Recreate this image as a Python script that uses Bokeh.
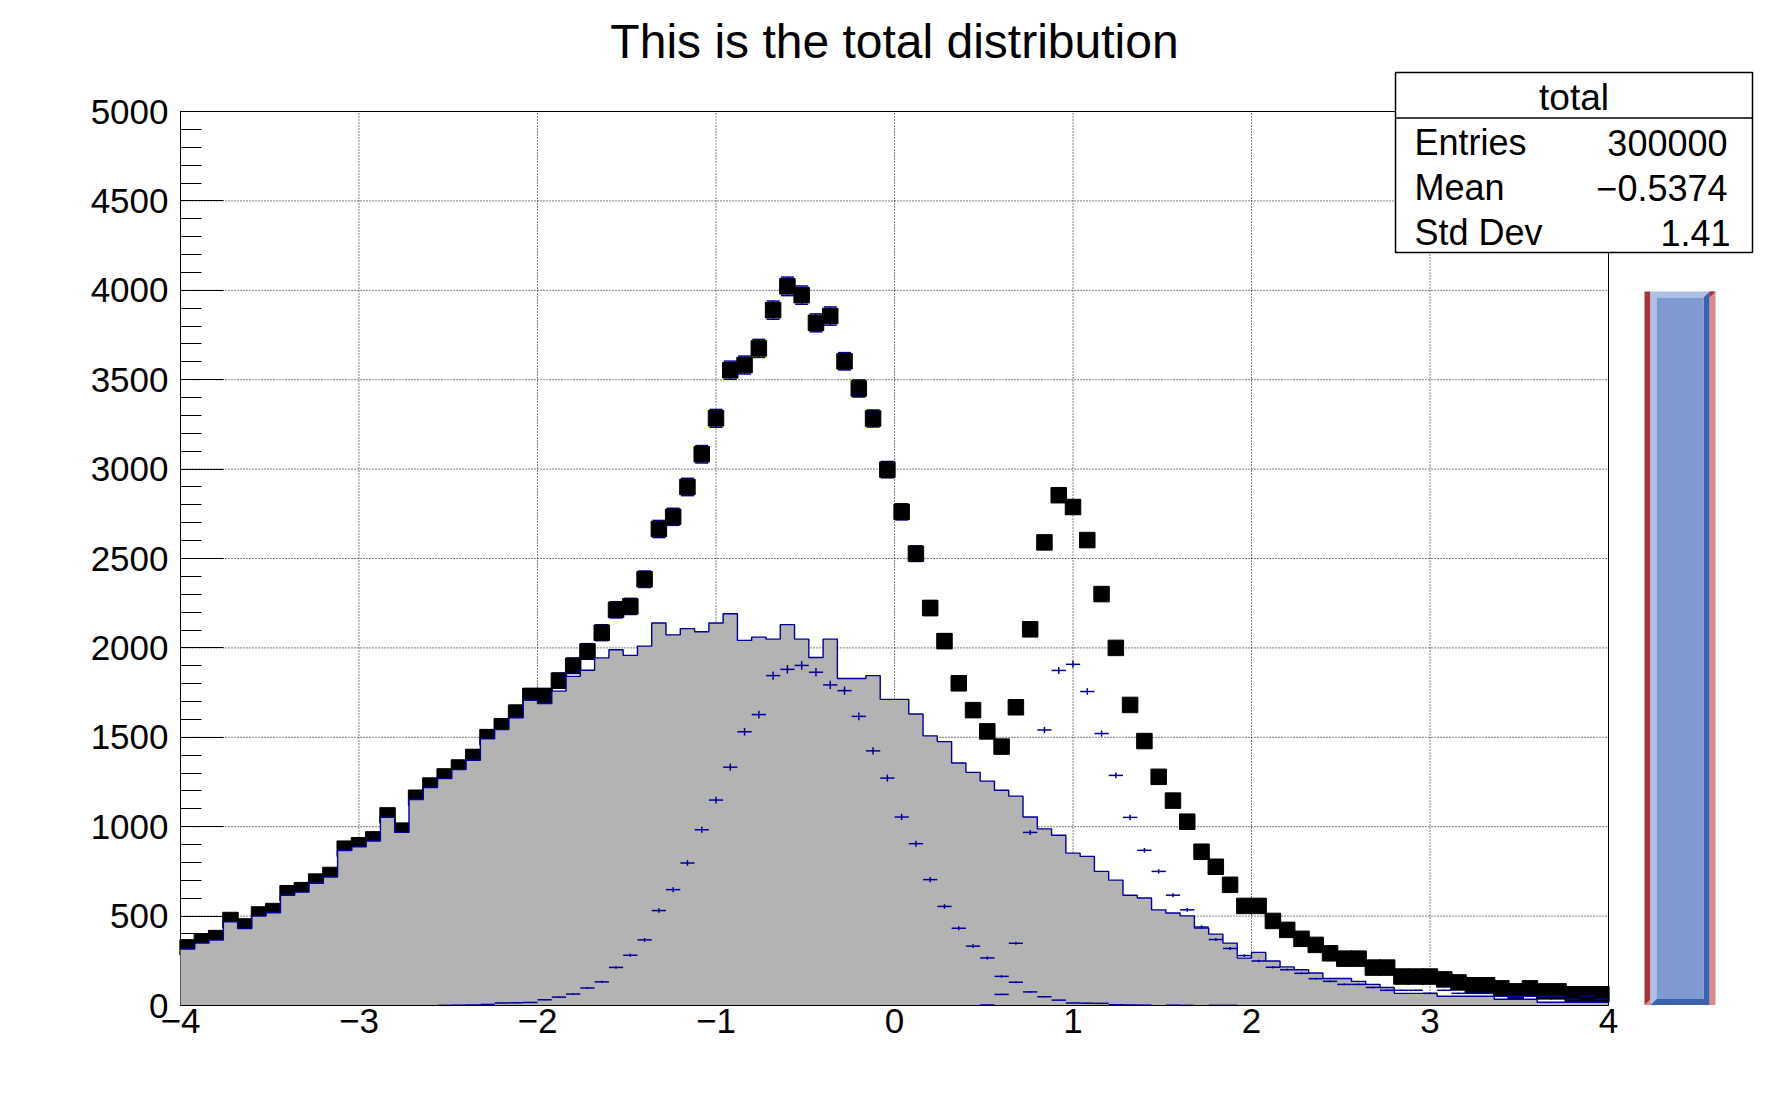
import numpy as np
from bokeh.plotting import figure
from bokeh.models import (Range1d, FixedTicker, BoxAnnotation, PolyAnnotation, Label,
                          LinearAxis)
from bokeh.embed import file_html
from bokeh.resources import INLINE

# ---------------- data ----------------
N_BINS = 100
X_MIN, X_MAX = -4.0, 4.0
Y_MIN, Y_MAX = 0.0, 5000.0

total = [325, 359, 377, 478, 442, 509, 528, 628, 645, 693,
         730, 877, 896, 929, 1063, 978, 1162, 1230, 1281, 1331,
         1390, 1501, 1562, 1638, 1731, 1731, 1817, 1900, 1980, 2085,
         2213, 2232, 2384, 2665, 2733, 2900, 3083, 3284, 3553, 3582,
         3675, 3889, 4022, 3973, 3818, 3856, 3603, 3451, 3283, 2997,
         2761, 2527, 2223, 2038, 1802, 1652, 1533, 1448, 1668, 2104,
         2590, 2854, 2788, 2603, 2301, 2000, 1681, 1479, 1279, 1146,
         1028, 860, 776, 675, 557, 557, 473, 423, 373, 339,
         292, 262, 262, 212, 212, 162, 162, 162, 146, 129,
         113, 113, 96, 79, 96, 79, 79, 63, 63, 63]

main = [316, 349, 366, 468, 431, 500, 519, 617, 634, 684,
        719, 866, 887, 920, 1053, 968, 1152, 1219, 1269, 1319,
        1372, 1491, 1543, 1609, 1707, 1689, 1758, 1841, 1875, 1944,
        1990, 1958, 2010, 2139, 2073, 2108, 2090, 2139, 2191, 2042,
        2060, 2049, 2130, 2049, 1946, 2049, 1829, 1829, 1845, 1712,
        1712, 1630, 1508, 1476, 1356, 1304, 1255, 1204, 1171, 1054,
        988, 952, 852, 834, 750, 701, 617, 601, 535, 517,
        501, 433, 399, 349, 265, 297, 249, 216, 200, 182,
        151, 151, 135, 118, 101, 68, 68, 68, 52, 52,
        52, 52, 35, 35, 35, 18, 18, 18, 18, 18]

sig1 = [0, 0, 0, 0, 0, 0, 0, 0, 0, 0,
        0, 0, 0, 0, 0, 0, 0, 0, 1, 2,
        3, 6, 14, 15, 17, 32, 47, 64, 98, 132,
        213, 281, 367, 531, 648, 797, 983, 1149, 1333, 1531,
        1627, 1845, 1880, 1902, 1864, 1793, 1761, 1617, 1424, 1272,
        1054, 905, 704, 554, 432, 332, 266, 163, 130, 76,
        49, 30, 14, 13, 12, 4, 3, 2, 0, 2,
        1, 0, 1, 1, 0, 0, 0, 0, 0, 0,
        0, 0, 0, 0, 0, 0, 0, 0, 0, 0,
        0, 0, 0, 0, 0, 0, 0, 0, 0, 0]

sig2 = [0, 0, 0, 0, 0, 0, 0, 0, 0, 0,
        0, 0, 0, 0, 0, 0, 0, 0, 0, 0,
        0, 0, 0, 0, 0, 0, 0, 0, 0, 0,
        0, 0, 0, 0, 0, 0, 0, 0, 0, 0,
        0, 0, 0, 0, 0, 0, 0, 0, 0, 0,
        0, 0, 0, 0, 0, 0, 3, 62, 348, 968,
        1541, 1874, 1908, 1756, 1521, 1287, 1052, 868, 750, 617,
        535, 439, 369, 319, 279, 249, 214, 200, 180, 150,
        135, 118, 118, 101, 85, 85, 85, 68, 85, 68,
        68, 68, 52, 52, 52, 52, 52, 35, 52, 35]

x_ticks = [-4, -3, -2, -1, 0, 1, 2, 3, 4]
x_tick_labels = ["\u22124", "\u22123", "\u22122", "\u22121", "0", "1", "2", "3", "4"]
y_ticks = list(range(0, 5001, 500))
y_minor = list(range(0, 5001, 100))

title_text = "This is the total distribution"
stats_title = "total"
stats_names = ["Entries", "Mean", "Std Dev"]
stats_values = ["300000", "\u22120.5374", "1.41"]

# ---------------- styles / layout ----------------
BLUE = "#000099"
GRAY = "#b3b3b3"
FONT = "Liberation Sans"
BASE_SHIFT = 0.36   # label baseline correction, in em

CANVAS_W, CANVAS_H = 1772, 1100
# ROOT frame position on the canvas (px)
FR_L, FR_R, FR_T, FR_B = 180.0, 1608.0, 111.0, 1005.0
ux = (X_MAX - X_MIN) / (FR_R - FR_L)   # data units per px
uy = (Y_MAX - Y_MIN) / (FR_B - FR_T)


def dx(px):
    return X_MIN + (px - FR_L) * ux


def dy(py):
    return Y_MIN + (FR_B - py) * uy


def text_at(xpx, baseline_px, text, size, align):
    return Label(x=dx(xpx), y=dy(baseline_px - BASE_SHIFT * size), text=text,
                 text_align=align, text_baseline="alphabetic", text_font=FONT,
                 text_font_size="%dpx" % size, text_color="black")


edges = np.linspace(X_MIN, X_MAX, N_BINS + 1)
centers = 0.5 * (edges[:-1] + edges[1:])
tot = np.array(total, float)
mn = np.array(main, float)
s1 = np.array(sig1, float)
s2 = np.array(sig2, float)

# errors from sum of squared weights (main w=1, s1 w=0.3, s2 w=0.2)
tot_err = np.sqrt(mn + 0.3 * s1 + 0.2 * s2)
s1_err = np.sqrt(0.3 * s1)
s2_err = np.sqrt(0.2 * s2)

p = figure(title=None, frame_width=CANVAS_W, frame_height=CANVAS_H,
           min_border_left=0, min_border_right=0, min_border_top=0, min_border_bottom=0,
           x_range=Range1d(dx(0), dx(CANVAS_W)), y_range=Range1d(dy(CANVAS_H), dy(0)),
           output_backend="svg", toolbar_location=None,
           background_fill_color="white", border_fill_color="white")
p.outline_line_color = None
p.grid.visible = False

# axes placed on the ROOT frame
p.xaxis.fixed_location = Y_MIN
p.xaxis.bounds = (X_MIN, X_MAX)
p.xaxis.ticker = FixedTicker(ticks=x_ticks)
p.xaxis.major_label_overrides = {t: l for t, l in zip(x_ticks, x_tick_labels)}
p.xaxis.major_tick_in = 0
p.xaxis.major_tick_out = 0
p.xaxis.minor_tick_in = 0
p.xaxis.minor_tick_out = 0
p.xaxis.major_label_standoff = 3
p.yaxis.fixed_location = X_MIN
p.yaxis.bounds = (Y_MIN, Y_MAX)
p.yaxis.ticker = FixedTicker(ticks=y_ticks, minor_ticks=y_minor)
p.yaxis.major_tick_in = 43
p.yaxis.major_tick_out = 0
p.yaxis.minor_tick_in = 21
p.yaxis.minor_tick_out = 0
p.yaxis.major_label_standoff = 12
p.yaxis.level = "underlay"       # the filled histogram covers the y ticks, as in ROOT
for ax in (p.xaxis, p.yaxis):
    ax.axis_line_color = "black"
    ax.axis_line_width = 1
    ax.major_tick_line_color = "black"
    ax.minor_tick_line_color = "black"
    ax.major_label_text_font = FONT
    ax.major_label_text_font_size = "35px"
    ax.major_label_text_color = "black"

# top and right sides of the frame
top_ax = LinearAxis(fixed_location=Y_MAX, bounds=(X_MIN, X_MAX), ticker=FixedTicker(ticks=[]),
                    major_tick_in=0, major_tick_out=0, minor_tick_in=0, minor_tick_out=0,
                    axis_line_color="black", axis_line_width=1)
right_ax = LinearAxis(fixed_location=X_MAX, bounds=(Y_MIN, Y_MAX), ticker=FixedTicker(ticks=[]),
                      major_tick_in=0, major_tick_out=0, minor_tick_in=0, minor_tick_out=0,
                      axis_line_color="black", axis_line_width=1)
p.add_layout(top_ax, "above")
p.add_layout(right_ax, "right")

# dotted grid at the major ticks, inside the frame, under the histograms
p.segment(x0=x_ticks, y0=Y_MIN, x1=x_ticks, y1=Y_MAX, line_color="black",
          line_dash="1 2", line_width=1, level="underlay")
p.segment(x0=X_MIN, y0=y_ticks, x1=X_MAX, y1=y_ticks, line_color="black",
          line_dash="1 2", line_width=1, level="underlay")

# total: error bars + squares (drawn first, like ROOT)
p.segment(x0=centers, y0=tot - tot_err, x1=centers, y1=tot + tot_err,
          line_color=BLUE, line_width=1.5)
p.segment(x0=edges[:-1], y0=tot, x1=edges[1:], y1=tot, line_color=BLUE, line_width=1.5)
p.scatter(x=np.concatenate([centers, centers]),
          y=np.concatenate([tot - tot_err, tot + tot_err]),
          marker="dash", size=13, line_color=BLUE, line_width=1.5)
p.scatter(x=centers, y=tot, marker="square", size=15.5,
          fill_color="black", line_color="black")

# main contribution: gray filled histogram with blue outline
p.varea_step(x=edges, y1=np.zeros(N_BINS + 1), y2=np.append(mn, mn[-1]),
             step_mode="after", fill_color=GRAY, fill_alpha=1)
p.step(x=edges, y=np.append(mn, mn[-1]), mode="after", line_color=BLUE, line_width=1.4)

# signals as error crosses
for s, e in ((s1, s1_err), (s2, s2_err)):
    m = s > 0
    p.segment(x0=edges[:-1][m], y0=s[m], x1=edges[1:][m], y1=s[m],
              line_color=BLUE, line_width=1.5)
    p.segment(x0=centers[m], y0=(s - e)[m], x1=centers[m], y1=(s + e)[m],
              line_color=BLUE, line_width=1.5)

# title
p.add_layout(text_at(894, 58, title_text, 48, "center"))

# statistics box
SB_L, SB_R, SB_T, SB_B, SB_H = 1395, 1752, 72, 252, 117.6
p.add_layout(BoxAnnotation(left=dx(SB_L), right=dx(SB_R), top=dy(SB_T), bottom=dy(SB_B),
                           fill_color="white", fill_alpha=1,
                           line_color="black", line_alpha=1, line_width=1.5))
p.add_layout(PolyAnnotation(xs=[dx(SB_L), dx(SB_R)], ys=[dy(SB_H), dy(SB_H)],
                            fill_alpha=0, line_color="black", line_alpha=1, line_width=1.5))
p.add_layout(text_at(1573.5, 110.5, stats_title, 37, "center"))
for i, (nm, vl) in enumerate(zip(stats_names, stats_values)):
    yb = 155 + 45 * i
    p.add_layout(text_at(1414, yb, nm, 36, "left"))
    p.add_layout(text_at(1727 if i < 2 else 1730, yb, vl, 36, "right"))


# slider (TSlider) to the right of the frame
def poly(pts, color):
    return PolyAnnotation(xs=[dx(a) for a, b in pts], ys=[dy(b) for a, b in pts],
                          fill_color=color, fill_alpha=1, line_alpha=0)


SL, SR, ST, SBm, BV = 1644, 1715, 291, 1004.5, 6
p.add_layout(poly([(SL, ST), (SL + BV, ST), (SL + BV, SBm), (SL, SBm)], "#a3343b"))
p.add_layout(poly([(SR - BV, ST), (SR, ST), (SR, SBm), (SR - BV, SBm)], "#de898e"))
p.add_layout(poly([(SR - BV, ST), (SR, ST), (SR - BV, ST + BV)], "#a3343b"))
p.add_layout(poly([(SL, SBm), (SL + BV, SBm), (SL + BV, SBm - BV)], "#de898e"))
p.add_layout(poly([(SL + BV, ST), (SR - BV, ST), (SR - 2 * BV, ST + BV), (SL + 2 * BV, ST + BV),
                   (SL + 2 * BV, SBm - BV), (SL + BV, SBm)], "#aec0e5"))
p.add_layout(poly([(SR - BV, ST), (SR - BV, SBm), (SL + BV, SBm), (SL + 2 * BV, SBm - BV),
                   (SR - 2 * BV, SBm - BV), (SR - 2 * BV, ST + BV)], "#3d62ad"))
p.add_layout(poly([(SL + 2 * BV, ST + BV), (SR - 2 * BV, ST + BV), (SR - 2 * BV, SBm - BV),
                   (SL + 2 * BV, SBm - BV)], "#7e9ad0"))

open("out.html", "w").write(file_html(p, INLINE))
